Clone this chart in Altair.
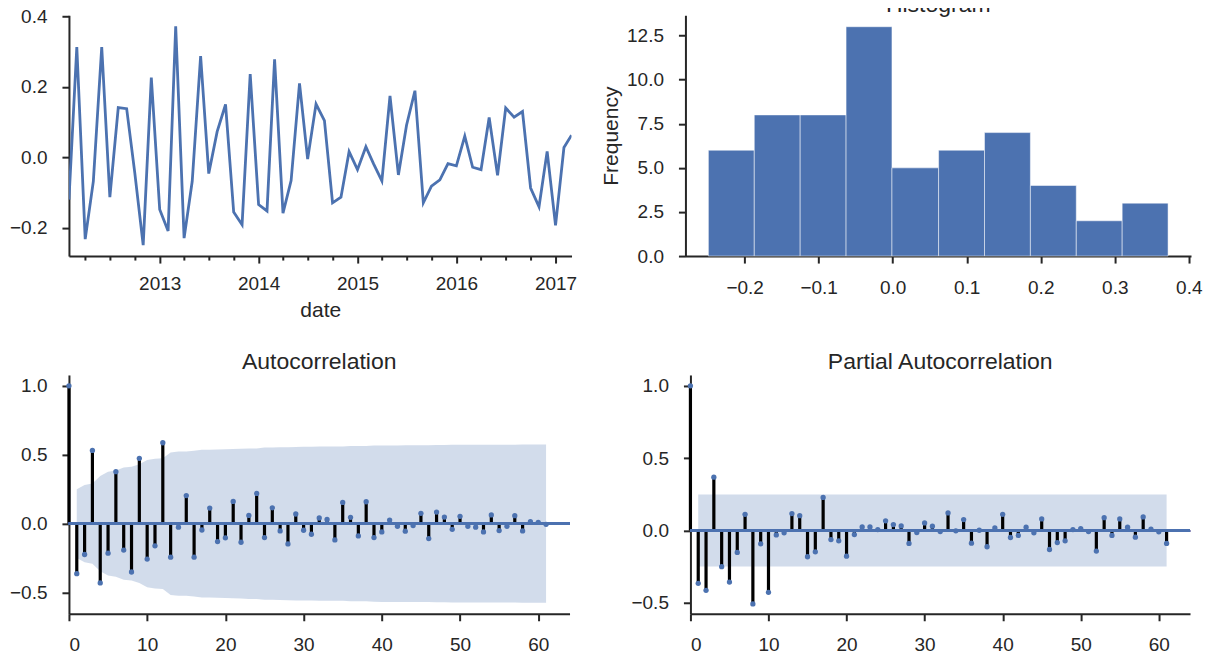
import altair as alt
import pandas as pd

# ---------------- data ----------------
start_month = "2012-02-01"
series_values = [
    -0.120, 0.313, -0.232, -0.068, 0.313, -0.113, 0.141, 0.138, -0.044, -0.249,
    0.226, -0.148, -0.209, 0.372, -0.229, -0.068, 0.287, -0.046, 0.073, 0.150,
    -0.155, -0.191, 0.236, -0.134, -0.152, 0.278, -0.158, -0.066, 0.210, -0.005,
    0.151, 0.104, -0.129, -0.113, 0.016, -0.035, 0.030, -0.018, -0.067, 0.174,
    -0.050, 0.091, 0.189, -0.129, -0.082, -0.064, -0.018, -0.024, 0.060, -0.028,
    -0.035, 0.113, -0.051, 0.140, 0.114, 0.130, -0.087, -0.140, 0.017, -0.193,
    0.028, 0.063,
]

hist_edges = [-0.249, -0.187, -0.125, -0.063, -0.001, 0.062, 0.124, 0.186, 0.248, 0.310, 0.372]
hist_counts = [6, 8, 8, 13, 5, 6, 7, 4, 2, 3]

acf_values = [
    1.000, -0.363, -0.224, 0.531, -0.430, -0.214, 0.377, -0.192, -0.351, 0.474,
    -0.257, -0.161, 0.587, -0.243, -0.026, 0.204, -0.243, -0.046, 0.113, -0.130,
    -0.103, 0.161, -0.135, 0.060, 0.219, -0.101, 0.115, -0.053, -0.147, 0.070,
    -0.048, -0.077, 0.041, 0.031, -0.118, 0.154, 0.046, -0.089, 0.159, -0.101,
    -0.060, 0.026, -0.019, -0.055, -0.014, 0.075, -0.108, 0.084, 0.048, -0.041,
    0.053, -0.019, -0.026, -0.060, 0.063, -0.050, -0.019, 0.058, -0.053, 0.014,
    0.010, -0.005,
]
# half-width of the ACF confidence band, lags 1..61
acf_band = [
    0.249, 0.280, 0.291, 0.346, 0.377, 0.385, 0.407, 0.413, 0.431, 0.462,
    0.471, 0.474, 0.517, 0.524, 0.524, 0.529, 0.536, 0.536, 0.538, 0.540,
    0.541, 0.544, 0.546, 0.546, 0.552, 0.553, 0.554, 0.555, 0.557, 0.558,
    0.558, 0.559, 0.559, 0.559, 0.560, 0.563, 0.563, 0.564, 0.567, 0.568,
    0.568, 0.568, 0.569, 0.569, 0.569, 0.569, 0.571, 0.571, 0.572, 0.572,
    0.572, 0.572, 0.572, 0.573, 0.573, 0.573, 0.573, 0.574, 0.574, 0.574,
    0.574,
]

pacf_values = [
    1.000, -0.365, -0.413, 0.369, -0.250, -0.356, -0.151, 0.112, -0.507, -0.092,
    -0.427, -0.030, -0.016, 0.117, 0.103, -0.181, -0.147, 0.229, -0.062, -0.071,
    -0.177, -0.028, 0.025, 0.025, 0.007, 0.067, 0.041, 0.032, -0.089, -0.014,
    0.053, 0.030, -0.007, 0.122, -0.002, 0.076, -0.087, 0.002, -0.112, 0.018,
    0.112, -0.048, -0.034, 0.023, -0.016, 0.080, -0.131, -0.083, -0.071, 0.007,
    0.014, -0.007, -0.142, 0.089, -0.034, 0.080, 0.023, -0.046, 0.094, 0.009,
    -0.009, -0.089,
]
pacf_band_half = 0.249

# ---------------- styling ----------------
BLUE = "#4C72B0"
INK = "#262626"
FONT = "Liberation Sans"

dates = pd.date_range(start=start_month, periods=len(series_values), freq="MS")
ts_df = pd.DataFrame({"date": dates, "value": series_values})

hist_df = pd.DataFrame({
    "left": hist_edges[:-1],
    "right": hist_edges[1:],
    "count": hist_counts,
})

lags = list(range(len(acf_values)))
acf_df = pd.DataFrame({"lag": lags, "value": acf_values, "base": 0.0})
acf_band_df = pd.DataFrame({
    "lag": lags[1:],
    "lo": [-b for b in acf_band],
    "hi": acf_band,
})
pacf_df = pd.DataFrame({"lag": lags, "value": pacf_values, "base": 0.0})
pacf_band_df = pd.DataFrame({
    "lag": [1, lags[-1]],
    "lo": [-pacf_band_half, -pacf_band_half],
    "hi": [pacf_band_half, pacf_band_half],
})

# ---------------- time series ----------------
quarter_ticks = []
for y in range(2012, 2018):
    for m in (1, 4, 7, 10):
        if (y == 2012 and m < 4) or (y == 2017 and m > 1):
            continue
        quarter_ticks.append(alt.DateTime(year=y, month=m, date=1))

ts = alt.Chart(ts_df).mark_line(color=BLUE, strokeWidth=2.8, clip=True).encode(
    x=alt.X(
        "date:T",
        title="date",
        scale=alt.Scale(
            domain=[alt.DateTime(year=2012, month=2, date=1),
                    alt.DateTime(year=2017, month=3, date=1)],
            nice=False,
        ),
        axis=alt.Axis(
            values=quarter_ticks,
            labelExpr="month(datum.value) == 0 ? timeFormat(datum.value, '%Y') : ''",
            tickSize={"condition": {"test": "month(datum.value) == 0", "value": 7}, "value": 4},
            labelPadding=11,
            titlePadding=6,
        ),
    ),
    y=alt.Y(
        "value:Q",
        title=None,
        scale=alt.Scale(domain=[-0.28, 0.403], nice=False, zero=False),
        axis=alt.Axis(values=[-0.2, 0.0, 0.2, 0.4], format=".1f"),
    ),
).properties(width=503, height=241)

# ---------------- histogram ----------------
hist = alt.Chart(hist_df).mark_rect(
    color=BLUE, stroke="#ffffff", strokeWidth=1, strokeOpacity=0.5
).encode(
    x=alt.X(
        "left:Q",
        title=None,
        scale=alt.Scale(domain=[-0.28, 0.403], nice=False, zero=False),
        axis=alt.Axis(values=[-0.2, -0.1, 0.0, 0.1, 0.2, 0.3, 0.4], format=".1f"),
    ),
    x2="right:Q",
    y=alt.Y(
        "count:Q",
        title="Frequency",
        scale=alt.Scale(domain=[0, 13.65], nice=False),
        axis=alt.Axis(values=[0, 2.5, 5, 7.5, 10, 12.5], format=".1f", titlePadding=5),
    ),
    y2=alt.datum(0),
).properties(
    width=506, height=241,
    title=alt.TitleParams("Histogram", offset=-2),
)


# ---------------- correlograms ----------------
def correlogram(df, band_df, title, ydom, width):
    xs = alt.Scale(domain=[0, 64], nice=False, zero=False)
    ys = alt.Scale(domain=ydom, nice=False, zero=False)
    xaxis = alt.Axis(values=[0, 10, 20, 30, 40, 50, 60], format="d")
    yaxis = alt.Axis(values=[-0.5, 0.0, 0.5, 1.0], format=".1f")
    band = alt.Chart(band_df).mark_area(color=BLUE, opacity=0.25).encode(
        x=alt.X("lag:Q", title=None, scale=xs, axis=xaxis),
        y=alt.Y("lo:Q", title=None, scale=ys, axis=yaxis),
        y2="hi:Q",
    )
    stems = alt.Chart(df).mark_rule(color="#000000", strokeWidth=3.2).encode(
        x=alt.X("lag:Q"),
        y=alt.Y("base:Q"),
        y2="value:Q",
    )
    zero = alt.Chart(df).mark_rule(color=BLUE, strokeWidth=2.8).encode(
        y=alt.datum(0),
    )
    dots = alt.Chart(df).mark_circle(color=BLUE, size=28, opacity=1).encode(
        x=alt.X("lag:Q"),
        y=alt.Y("value:Q"),
    )
    return alt.layer(band, stems, zero, dots).properties(
        width=width, height=239, title=title
    )


acf = correlogram(acf_df, acf_band_df, "Autocorrelation", [-0.654, 1.079], 501)
pacf = correlogram(pacf_df, pacf_band_df, "Partial Autocorrelation", [-0.575, 1.075], 500)

top = alt.hconcat(ts, hist, spacing=114, bounds="flush")
bottom = alt.hconcat(acf, pacf, spacing=121, bounds="flush")

chart = alt.vconcat(top, bottom, spacing=31).properties(
    padding={"left": 1, "top": -14, "right": 5, "bottom": 5}
).configure_view(
    strokeWidth=0
).configure_axis(
    labelFont=FONT,
    labelFontSize=19,
    labelColor=INK,
    titleFont=FONT,
    titleFontSize=21,
    titleFontWeight="normal",
    titleColor=INK,
    domainColor=INK,
    domainWidth=2,
    tickColor=INK,
    tickWidth=2,
    tickSize=7,
    labelPadding=15,
    grid=False,
).configure_title(
    font=FONT,
    fontSize=23,
    fontWeight="normal",
    color=INK,
    anchor="middle",
    baseline="alphabetic",
    offset=1,
)

chart.save("out.html", embed_options={"renderer": "svg", "actions": False})
